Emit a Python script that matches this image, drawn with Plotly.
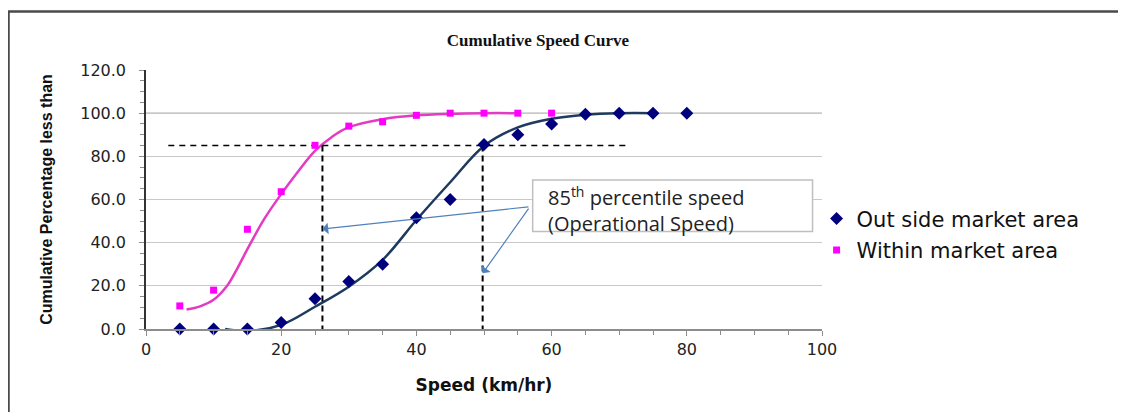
import plotly.graph_objects as go

# observed points
speed = [5, 10, 15, 20, 25, 30, 35, 40, 45, 50, 55, 60, 65, 70, 75, 80]
outside_pct = [0, 0, 0, 3, 14, 22, 30, 51.6, 60, 85.5, 90, 95, 99.5, 100, 100, 100]
within_speed = [5, 10, 15, 20, 25, 30, 35, 40, 45, 50, 55, 60]
within_pct = [10.7, 18, 46.2, 63.6, 85.1, 94, 96, 99, 100, 100, 100, 100]

# fitted curves
outside_fit_x = [11.7, 15, 20, 25, 30, 35, 40, 45, 50, 55, 60, 65, 70, 75.5]
outside_fit_y = [0, -0.9, 1.9, 10.3, 19.6, 32, 50.5, 68, 84.8, 93.4, 97.4, 99.3, 100, 100]
within_fit_x = [6, 8, 10, 12, 13.5, 15, 17.5, 20, 22.5, 25, 27.5, 30, 35, 40, 45, 50, 55]
within_fit_y = [9, 10.5, 13.5, 20, 28, 37, 51, 62.5, 73, 82.5, 89, 93.5, 97.2, 99, 99.7, 100, 100]

# 85th percentile markers
p85 = 85
p85_within = 26.1
p85_outside = 49.8

NAVY = '#00007F'
MAGENTA = '#FF00FF'
ARROW = '#4F81BD'

fig = go.Figure()

fig.add_trace(go.Scatter(
    x=within_fit_x, y=within_fit_y, mode='lines', line_shape='spline',
    line={'color': '#E33BC2', 'width': 2.5}, showlegend=False, hoverinfo='skip'))
fig.add_trace(go.Scatter(
    x=outside_fit_x, y=outside_fit_y, mode='lines', line_shape='spline',
    line={'color': '#1F3A5F', 'width': 2.5}, showlegend=False, hoverinfo='skip'))

# dashed guide lines
fig.add_trace(go.Scatter(
    x=[3.3, 71.3], y=[p85, p85], mode='lines',
    line={'color': 'black', 'width': 1.5, 'dash': '6px,5px'}, showlegend=False, hoverinfo='skip'))
for xv in [p85_within, p85_outside]:
    fig.add_trace(go.Scatter(
        x=[xv, xv], y=[p85, -1], mode='lines', cliponaxis=False,
        line={'color': 'black', 'width': 2, 'dash': '6px,4px'}, showlegend=False, hoverinfo='skip'))

fig.add_trace(go.Scatter(
    x=speed, y=outside_pct, mode='markers', name='Out side market area',
    legendgroup='a', cliponaxis=False,
    marker={'symbol': 'diamond', 'size': 10, 'color': NAVY}))
fig.add_trace(go.Scatter(
    x=within_speed, y=within_pct, mode='markers', name='Within market area',
    legendgroup='b', cliponaxis=False,
    marker={'symbol': 'square', 'size': 7, 'color': MAGENTA}))

# annotation box + arrows
fig.add_shape(type='rect', x0=57.2, x1=98.6, y0=45.2, y1=69,
              line={'color': '#BFBFBF', 'width': 1.5}, fillcolor='white', layer='above')
fig.add_annotation(x=59.2, y=55.3, xanchor='left', yanchor='middle', showarrow=False,
                   align='left',
                   text='85<sup>th</sup> percentile speed<br>(Operational Speed)',
                   font={'family': 'Open Sans', 'size': 20, 'color': '#222'})
for tx, ty in [(p85_within, 46.3), (p85_outside, 25.8)]:
    fig.add_annotation(x=tx, y=ty, ax=56.8, ay=56.7, axref='x', ayref='y',
                       xref='x', yref='y', text=' ', showarrow=True,
                       font={'size': 1},
                       arrowhead=1, arrowsize=1.6, arrowwidth=1.2, arrowcolor=ARROW)

# darker gridline at 100
fig.add_shape(type='line', x0=0, x1=100, y0=100, y1=100,
              line={'color': '#8C8C8C', 'width': 1}, layer='below')

# outer chart border (page body adds an 8px offset)
fig.add_shape(type='rect', xref='paper', yref='paper',
              x0=-0.2034, x1=1.5, y0=1.2262, y1=-0.4,
              line={'color': '#4A4A4A', 'width': 2.5})

fig.update_layout(
    width=1118, height=404,
    margin={'l': 138, 'r': 304, 't': 62, 'b': 83, 'autoexpand': False},
    paper_bgcolor='white', plot_bgcolor='white',
    font={'family': 'DejaVu Sans, Arial', 'color': '#111'},
    title={'text': '<b>Cumulative Speed Curve</b>', 'x': 0.474, 'xanchor': 'center',
           'y': 0.921, 'yanchor': 'middle',
           'font': {'family': 'Liberation Serif, Times New Roman', 'size': 17, 'color': '#111'}},
    legend={'x': 0.992, 'y': 0.365, 'xanchor': 'left', 'yanchor': 'middle',
            'font': {'size': 21, 'color': '#111'}, 'tracegroupgap': 1,
            'itemwidth': 30, 'bgcolor': 'rgba(0,0,0,0)'},
    xaxis={'range': [0, 100], 'tick0': 0, 'dtick': 20, 'showgrid': False, 'zeroline': False,
           'automargin': False,
           'showline': True, 'linecolor': '#8C8C8C', 'linewidth': 1.5,
           'ticks': 'outside', 'ticklen': 5, 'tickcolor': '#8C8C8C',
           'tickfont': {'size': 16, 'color': '#222'},
           'minor': {'dtick': 5, 'ticks': 'outside', 'ticklen': 4, 'tickcolor': '#8C8C8C'},
           'title': {'text': '<b>Speed (km/hr)</b>', 'font': {'size': 17, 'color': '#111'},
                     'standoff': 21}},
    yaxis={'range': [0, 120], 'tick0': 0, 'dtick': 20, 'tickformat': '.1f',
           'automargin': False,
           'showgrid': True, 'gridcolor': '#C8C8C8', 'gridwidth': 1, 'zeroline': False,
           'showline': True, 'linecolor': '#333333', 'linewidth': 1.5,
           'ticks': 'outside', 'ticklen': 5, 'tickcolor': '#8C8C8C',
           'tickfont': {'size': 16, 'color': '#222'}, 'ticklabelstandoff': 10,
           'minor': {'dtick': 5, 'ticks': 'outside', 'ticklen': 4, 'tickcolor': '#8C8C8C',
                     'showgrid': False},
           'title': {'text': '<b>Cumulative Percentage less than</b>',
                     'font': {'family': 'Liberation Sans, Arial', 'size': 16, 'color': '#111'},
                     'standoff': 24}},
)

fig.write_html('out.html')
